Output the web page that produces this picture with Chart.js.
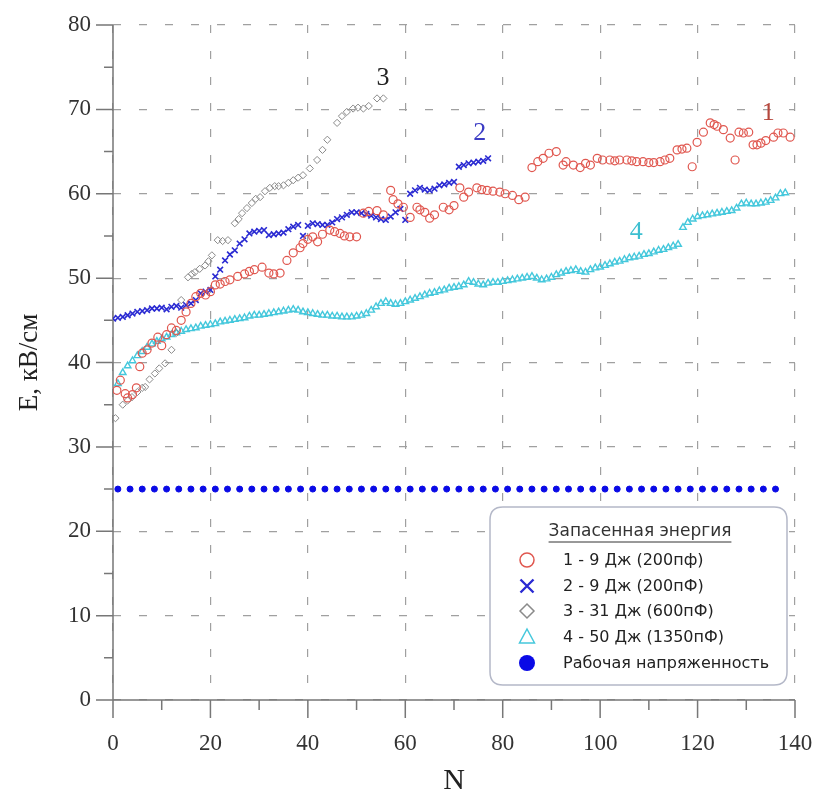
<!DOCTYPE html>
<html><head><meta charset="utf-8">
<script src="https://cdn.jsdelivr.net/npm/chart.js@4.4.0/dist/chart.umd.min.js"></script>
<style>html,body{margin:0;padding:0;background:#fff}#wrap{width:819px;height:801px;position:relative}</style>
</head><body><div id="wrap"><canvas id="c" width="819" height="801"></canvas></div>
<script>
// Series 1 – 9 Дж (200пФ), red circles [N, E]
const series1 = [[0.8,36.7],[1.5,37.9],[2.5,36.3],[3,35.8],[4,36.2],[4.8,37],[5.5,39.5],[6,41.1],[7,41.5],[8,42.3],[9.2,43],[10,42],[11,43.3],[12,44.1],[13,43.8],[14,45],[15,46],[16,47],[17,47.8],[18,48.2],[19,48],[20,48.4],[21,49.2],[22,49.3],[23,49.6],[24,49.8],[25.6,50.2],[27,50.5],[28,50.8],[29,51],[30.6,51.3],[32,50.6],[33,50.5],[34.3,50.6],[35.7,52.1],[37,53],[38.4,53.6],[39,54.1],[40,54.6],[41,54.9],[42,54.3],[43,55.2],[44.5,55.7],[45.5,55.5],[46.6,55.3],[47.5,55],[48.6,54.9],[50,54.9],[51.4,57.7],[52.5,57.9],[54.2,58],[55.5,57.5],[57,60.4],[57.5,59.3],[58.5,58.8],[59.6,58.4],[61,57.2],[62.4,58.4],[63,58.1],[64,57.8],[65,57.1],[66,57.5],[67.8,58.4],[69,58.1],[70,58.6],[71.2,60.7],[72,59.6],[73,60.2],[74.7,60.7],[75.7,60.5],[76.8,60.4],[78,60.3],[79.4,60.2],[80.5,60],[82,59.8],[83.3,59.3],[84.6,59.6],[86,63.1],[87.2,63.8],[88.3,64.2],[89.5,64.8],[91,65],[92.4,63.4],[93,63.8],[94.5,63.4],[95.9,63.1],[97,63.6],[98,63.4],[99.4,64.2],[100.5,64],[102,64],[103,63.9],[104,64],[105.5,64],[106.5,63.9],[107.5,63.8],[108.8,63.8],[110,63.7],[111,63.7],[112.3,63.8],[113.3,64],[114.3,64.2],[115.8,65.2],[116.8,65.3],[117.8,65.4],[118.9,63.2],[119.9,66.1],[121.2,67.3],[122.6,68.4],[123.4,68.2],[124,68],[125.3,67.6],[126.7,66.6],[127.7,64],[128.5,67.3],[129.4,67.2],[130.5,67.3],[131.4,65.8],[132.2,65.8],[133,66],[134,66.3],[135.6,66.7],[136.5,67.2],[137.6,67.2],[139,66.7]];

// Series 2 – 9 Дж (200пФ), blue crosses
const series2 = [[0,45.2],[1,45.3],[2,45.4],[3,45.6],[4,45.8],[5,46],[6,46.1],[7,46.2],[8,46.4],[9,46.4],[10,46.5],[11,46.3],[12,46.6],[13,46.7],[14,46.5],[15,46.8],[16,47],[17,47.4],[18,48.2],[19,48.4],[20,48.6],[21,50.2],[22,51],[23,52.1],[24,52.8],[25,53.3],[26,54.1],[27,54.6],[28,55.3],[29,55.5],[30,55.6],[31,55.7],[32,55.1],[33,55.2],[34,55.3],[35,55.4],[36,55.8],[37,56.1],[38,56.3],[39,55],[40,56.2],[41,56.5],[42,56.4],[43,56.3],[44,56.3],[45,56.6],[46,57],[47,57.2],[48,57.5],[49,57.8],[50,57.8],[51,57.7],[52,57.6],[53,57.4],[54,57.2],[55,57],[56,56.9],[57,57.3],[58,57.8],[59,58.2],[60,56.9],[61,60],[62,60.4],[63,60.7],[64,60.5],[65,60.4],[66,60.6],[67,61],[68,61.1],[69,61.3],[70,61.4],[71,63.2],[72,63.4],[73,63.6],[74,63.7],[75,63.8],[76,63.9],[77,64.2]];

// Series 3 – 31 Дж (600пФ), grey diamonds
const series3 = [[0.5,33.4],[2,35],[3,35.5],[3.9,35.9],[5,36.5],[6,37],[6.6,37.1],[7.5,38],[8.6,38.7],[9.5,39.3],[10.7,39.9],[12,41.5],[13,43.5],[14,47.4],[15.4,50.1],[16.2,50.5],[16.8,50.7],[17.8,51.1],[18.9,51.5],[19.6,52],[20.3,52.7],[21.5,54.5],[22.5,54.4],[23.6,54.5],[25,56.5],[25.8,57],[26.5,57.7],[27.5,58.3],[28.5,58.9],[29.3,59.4],[30.2,59.6],[31.2,60.3],[32.2,60.7],[33.2,60.9],[34,60.9],[35,61],[36,61.3],[37,61.6],[38,61.9],[39,62.2],[40.4,63],[41.9,64],[43,65.2],[44,66.4],[46,68.4],[47,69.2],[48,69.7],[49.3,70.1],[50.3,70.2],[51.4,70.1],[52.5,70.4],[54.2,71.3],[55.5,71.3]];

// Series 4 – 50 Дж (1350пФ), cyan triangles, N = 1..138
const series4N = [1,2,3,4,5,6,7,8,9,10,11,12,13,14,15,16,17,18,19,20,21,22,23,24,25,26,27,28,29,30,31,32,33,34,35,36,37,38,39,40,41,42,43,44,45,46,47,48,49,50,51,52,53,54,55,56,57,58,59,60,61,62,63,64,65,66,67,68,69,70,71,72,73,74,75,76,77,78,79,80,81,82,83,84,85,86,87,88,89,90,91,92,93,94,95,96,97,98,99,100,101,102,103,104,105,106,107,108,109,110,111,112,113,114,115,116,117,118,119,120,121,122,123,124,125,126,127,128,129,130,131,132,133,134,135,136,137,138];
const series4E = [37.5,38.8,39.6,40.2,40.8,41.3,41.8,42.2,42.5,42.8,43.0,43.3,43.5,43.7,43.9,44.0,44.1,44.3,44.4,44.5,44.6,44.8,44.9,45.0,45.1,45.2,45.3,45.5,45.6,45.6,45.7,45.8,45.9,46.0,46.1,46.2,46.3,46.2,46.0,45.9,45.8,45.7,45.6,45.6,45.5,45.5,45.4,45.4,45.4,45.5,45.6,45.8,46.2,46.6,47.0,47.2,47.0,46.9,47.0,47.2,47.4,47.6,47.8,48.0,48.2,48.3,48.5,48.6,48.8,48.9,49.0,49.2,49.6,49.5,49.3,49.2,49.4,49.5,49.5,49.6,49.7,49.8,49.9,50.0,50.1,50.2,50.0,49.8,49.9,50.1,50.4,50.6,50.8,50.9,51.0,50.8,50.7,51.0,51.2,51.3,51.5,51.7,51.9,52.0,52.2,52.4,52.5,52.6,52.8,52.9,53.1,53.3,53.4,53.6,53.8,54.0,56.0,56.6,57.0,57.3,57.4,57.5,57.6,57.7,57.8,57.9,58.0,58.3,58.8,58.9,58.8,58.8,58.9,59.0,59.2,59.5,60.0,60.1];

// Рабочая напряженность = 25 кВ/см
const workN = [1,3.5,6,8.5,11,13.5,16,18.5,21,23.5,26,28.5,31,33.5,36,38.5,41,43.5,46,48.5,51,53.5,56,58.5,61,63.5,66,68.5,71,73.5,76,78.5,81,83.5,86,88.5,91,93.5,96,98.5,101,103.5,106,108.5,111,113.5,116,118.5,121,123.5,126,128.5,131,133.5,136];
const workE = 25;

const legendTitle = 'Запасенная энергия';
const legendLabels = ['1 - 9 Дж (200пф)','2 - 9 Дж (200пФ)','3 - 31 Дж (600пФ)','4 - 50 Дж (1350пФ)','Рабочая напряженность'];
const curveLabels = [
  {text:'1', n:134.5, e:69.6, color:'#b5473d'},
  {text:'2', n:75.3, e:67.2, color:'#3c3cc4'},
  {text:'3', n:55.4, e:73.7, color:'#222222'},
  {text:'4', n:107.4, e:55.5, color:'#3dbfd0'}
];
const xTicks = [0,20,40,60,80,100,120,140];
const yTicks = [0,10,20,30,40,50,60,70,80];
const xTitle = 'N';
const yTitle = 'E, кВ/см';

const C1='#e0574f', C2='#2a2ad2', C3='#8a8a8a', C4='#45c8dc', C5='#0a0ae6';
const styles = [
  {pointStyle:'circle', color:C1, r:4, bw:1.2, fill:'rgba(0,0,0,0)'},
  {pointStyle:'crossRot', color:C2, r:4, bw:1.6, fill:C2},
  {pointStyle:'rectRot', color:C3, r:3.6, bw:1, fill:'rgba(0,0,0,0)'},
  {pointStyle:'triangle', color:C4, r:3.8, bw:1.4, fill:'rgba(0,0,0,0)'},
  {pointStyle:'circle', color:C5, r:3, bw:1, fill:C5}
];

function toXY(arr){ return arr.map(p=>({x:p[0], y:p[1]})); }
const ds = [
  toXY(series1), toXY(series2), toXY(series3),
  series4N.map((n,i)=>({x:n, y:series4E[i]})),
  workN.map(n=>({x:n, y:workE}))
].map((data,i)=>({
  label: legendLabels[i], data,
  showLine:false,
  pointStyle: styles[i].pointStyle,
  pointRadius: styles[i].r,
  pointBorderWidth: styles[i].bw,
  borderColor: styles[i].color,
  backgroundColor: styles[i].fill,
  pointHoverRadius: styles[i].r
}));

const axisPlugin = {
  id:'axisPlugin',
  beforeDatasetsDraw(chart){
    const ctx = chart.ctx, xs = chart.scales.x, ys = chart.scales.y;
    const a = chart.chartArea;
    ctx.save();
    ctx.strokeStyle = '#777';
    ctx.lineWidth = 1.5;
    ctx.beginPath();
    ctx.moveTo(a.left, a.top); ctx.lineTo(a.left, a.bottom);
    ctx.moveTo(a.left, a.bottom); ctx.lineTo(a.right, a.bottom);
    for (let v=0; v<=80; v+=5){
      const y = ys.getPixelForValue(v);
      const L = (v%10===0)?17:9;
      ctx.moveTo(a.left-L, y); ctx.lineTo(a.left, y);
    }
    for (let v=0; v<=140; v+=10){
      const x = xs.getPixelForValue(v);
      const L = (v%20===0)?18:10;
      ctx.moveTo(x, a.bottom); ctx.lineTo(x, a.bottom+L);
    }
    ctx.stroke();
    ctx.restore();
  },
  afterDraw(chart){
    const ctx = chart.ctx, xs = chart.scales.x, ys = chart.scales.y;
    ctx.save();
    ctx.font = '26px "Liberation Serif", "DejaVu Serif", serif';
    ctx.textAlign='center'; ctx.textBaseline='middle';
    curveLabels.forEach(l=>{
      ctx.fillStyle = l.color;
      ctx.fillText(l.text, xs.getPixelForValue(l.n), ys.getPixelForValue(l.e));
    });
    // legend box
    const bx=490, by=507, bw=297, bh=178, rr=13;
    ctx.beginPath();
    ctx.moveTo(bx+rr,by); ctx.lineTo(bx+bw-rr,by); ctx.quadraticCurveTo(bx+bw,by,bx+bw,by+rr);
    ctx.lineTo(bx+bw,by+bh-rr); ctx.quadraticCurveTo(bx+bw,by+bh,bx+bw-rr,by+bh);
    ctx.lineTo(bx+rr,by+bh); ctx.quadraticCurveTo(bx,by+bh,bx,by+bh-rr);
    ctx.lineTo(bx,by+rr); ctx.quadraticCurveTo(bx,by,bx+rr,by);
    ctx.closePath();
    ctx.fillStyle='#fff'; ctx.fill();
    ctx.strokeStyle='#b4b8c8'; ctx.lineWidth=1.5; ctx.stroke();
    // title
    ctx.font='17px "DejaVu Sans", sans-serif';
    ctx.fillStyle='#333'; ctx.textAlign='center'; ctx.textBaseline='middle';
    const tx=640, ty=532;
    ctx.fillText(legendTitle, tx, ty);
    const tw = ctx.measureText(legendTitle).width;
    ctx.strokeStyle='#333'; ctx.lineWidth=1;
    ctx.beginPath(); ctx.moveTo(tx-tw/2, ty+10); ctx.lineTo(tx+tw/2, ty+10); ctx.stroke();
    // entries
    ctx.font='16px "DejaVu Sans", sans-serif';
    ctx.textAlign='left';
    const rows=[560,586,611,637,663];
    const mx=527, lx=563;
    rows.forEach((y,i)=>{
      const s=styles[i];
      ctx.strokeStyle=s.color; ctx.fillStyle=s.color;
      ctx.lineWidth = i===1?2.4:1.5;
      ctx.beginPath();
      if(i===0){ ctx.arc(mx,y,7,0,Math.PI*2); ctx.stroke(); }
      else if(i===1){ ctx.moveTo(mx-6.5,y-6.5); ctx.lineTo(mx+6.5,y+6.5); ctx.moveTo(mx+6.5,y-6.5); ctx.lineTo(mx-6.5,y+6.5); ctx.stroke(); }
      else if(i===2){ ctx.moveTo(mx,y-7); ctx.lineTo(mx+7,y); ctx.lineTo(mx,y+7); ctx.lineTo(mx-7,y); ctx.closePath(); ctx.stroke(); }
      else if(i===3){ ctx.moveTo(mx,y-8); ctx.lineTo(mx+7.5,y+6); ctx.lineTo(mx-7.5,y+6); ctx.closePath(); ctx.stroke(); }
      else { ctx.arc(mx,y,8,0,Math.PI*2); ctx.fill(); }
      ctx.fillStyle='#222';
      ctx.fillText(legendLabels[i], lx, y+1);
    });
    ctx.restore();
  }
};

new Chart(document.getElementById('c'), {
  type:'scatter',
  data:{datasets:ds},
  options:{
    responsive:false, animation:false, devicePixelRatio:1,
    layout:{padding:{top:25,right:24,left:0,bottom:0}},
    plugins:{legend:{display:false}, tooltip:{enabled:false}},
    scales:{
      x:{
        type:'linear', min:0, max:140,
        afterBuildTicks(s){ s.ticks = xTicks.map(v=>({value:v})); },
        afterFit(s){ s.height = 101; s.paddingLeft = 0; s.paddingRight = 0; },
        ticks:{padding:30, color:'#333', font:{family:'"Liberation Serif", serif', size:23}},
        grid:{color:'#a0a0a0', lineWidth:1.2, drawTicks:false},
        border:{display:false, dash:[8,18]},
        title:{display:true, text:xTitle, color:'#222', font:{family:'"Liberation Serif", serif', size:30}, padding:{top:0,bottom:2}}
      },
      y:{
        type:'linear', min:0, max:80,
        afterBuildTicks(s){ s.ticks = yTicks.map(v=>({value:v})); },
        afterFit(s){ s.width = 113; s.paddingTop = 0; s.paddingBottom = 0; },
        ticks:{padding:22, color:'#333', font:{family:'"Liberation Serif", serif', size:23}},
        grid:{color:'#a0a0a0', lineWidth:1.2, drawTicks:false},
        border:{display:false, dash:[8,18]},
        title:{display:true, text:yTitle, color:'#222', font:{family:'"Liberation Serif", serif', size:27}, padding:{top:14,bottom:0}}
      }
    }
  },
  plugins:[axisPlugin]
});
</script>
</body></html>
